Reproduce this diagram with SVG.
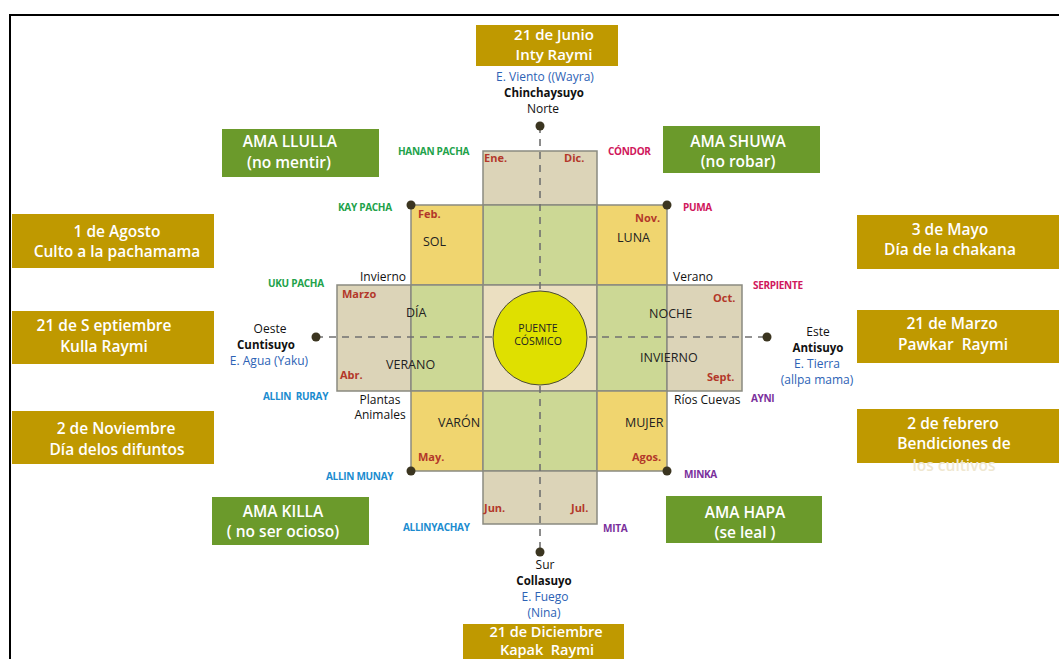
<svg xmlns="http://www.w3.org/2000/svg" width="1059" height="659" viewBox="0 0 1059 659">
<defs>
<style>
text{font-family:"Open Sans","Noto Sans","Liberation Sans",sans-serif}
.pre{white-space:pre}
.gold{fill:#bf9900}
.grn{fill:#6b9a2b}
.bt{fill:#fff;font-size:15.5px;font-weight:600;text-anchor:middle}
.tb{fill:#fff;font-size:14.5px;font-weight:600;text-anchor:middle}
.cell{stroke:#8a8a80;stroke-width:1.5}
.yel{fill:#f0d56f}
.gc{fill:#ccd895}
.bei{fill:#dcd4b8}
.ctr{fill:#ebdfc1}
.dot{fill:#3b3520}
.dash{stroke:#707070;stroke-width:1.6;stroke-dasharray:7 6;fill:none}
.mo{fill:#b3382a;font-size:11px;font-weight:700}
.in{fill:#222;font-size:12.5px}
.lb{fill:#111;font-size:12px}
.bd{fill:#111;font-size:11.5px;font-weight:700;text-anchor:middle}
.el{fill:#2c62b5;font-size:12px;text-anchor:middle}
.pg{fill:#22a24a;font-size:10px;font-weight:700;letter-spacing:-0.3px}
.pc{fill:#d0175c;font-size:10px;font-weight:700;letter-spacing:-0.3px}
.pb{fill:#1b8ccf;font-size:10px;font-weight:700;letter-spacing:-0.3px}
.pp{fill:#7a2f9c;font-size:10px;font-weight:700;letter-spacing:-0.3px}
</style>
</defs>
<rect width="1059" height="659" fill="#fff"/>
<path d="M10,659 V15 H1059" fill="none" stroke="#000" stroke-width="2"/>

<g id="cross">
<rect class="cell bei" x="483" y="151" width="114" height="54"/>
<rect class="cell gc" x="483" y="205" width="114" height="80"/>
<rect class="cell yel" x="411" y="205" width="72" height="80"/>
<rect class="cell yel" x="597" y="205" width="70" height="80"/>
<rect class="cell bei" x="337" y="285" width="74" height="106"/>
<rect class="cell gc" x="411" y="285" width="72" height="106"/>
<rect class="cell ctr" x="483" y="285" width="114" height="106"/>
<rect class="cell gc" x="597" y="285" width="70" height="106"/>
<rect class="cell bei" x="667" y="285" width="75" height="106"/>
<rect class="cell yel" x="411" y="391" width="72" height="80"/>
<rect class="cell gc" x="483" y="391" width="114" height="80"/>
<rect class="cell yel" x="597" y="391" width="70" height="80"/>
<rect class="cell bei" x="483" y="471" width="114" height="53"/>
</g>

<g id="connectors">
<line class="dash" x1="540" y1="126" x2="540" y2="552"/>
<line class="dash" x1="316" y1="337" x2="767" y2="337"/>
</g>

<g id="puente-cosmico">
<circle cx="540" cy="338" r="47" fill="#dfe000" stroke="#4a4a3a" stroke-width="1"/>
<text x="538" y="332" style="fill:#222;font-size:10.5px;text-anchor:middle">PUENTE</text>
<text x="538" y="345" style="fill:#222;font-size:10.5px;text-anchor:middle">CÓSMICO</text>
</g>

<g id="dots">
<circle class="dot" cx="540" cy="126" r="4.5"/>
<circle class="dot" cx="540" cy="552" r="4.5"/>
<circle class="dot" cx="316" cy="337" r="4.5"/>
<circle class="dot" cx="767" cy="337" r="4.5"/>
<circle class="dot" cx="411" cy="205" r="4.5"/>
<circle class="dot" cx="667" cy="205" r="4.5"/>
<circle class="dot" cx="411" cy="471" r="4.5"/>
<circle class="dot" cx="667" cy="471" r="4.5"/>
</g>

<g id="months">
<text class="mo" x="484" y="162">Ene.</text>
<text class="mo" x="564" y="162">Dic.</text>
<text class="mo" x="418" y="218">Feb.</text>
<text class="mo" x="635" y="222">Nov.</text>
<text class="mo" x="342" y="298">Marzo</text>
<text class="mo" x="713" y="302">Oct.</text>
<text class="mo" x="340" y="379">Abr.</text>
<text class="mo" x="707" y="381">Sept.</text>
<text class="mo" x="418" y="461">May.</text>
<text class="mo" x="632" y="461">Agos.</text>
<text class="mo" x="484" y="512">Jun.</text>
<text class="mo" x="571" y="512">Jul.</text>
</g>

<g id="inner-labels">
<text class="in" x="423" y="246">SOL</text>
<text class="in" x="617" y="242">LUNA</text>
<text class="in" x="406" y="317">DÍA</text>
<text class="in" x="649" y="318">NOCHE</text>
<text class="in" x="386" y="369">VERANO</text>
<text class="in" x="640" y="362">INVIERNO</text>
<text class="in" x="438" y="427">VARÓN</text>
<text class="in" x="625" y="427">MUJER</text>
</g>

<g id="side-labels">
<text class="lb" x="360" y="281">Invierno</text>
<text class="lb" x="673" y="281">Verano</text>
<text class="lb" x="380" y="404" text-anchor="middle">Plantas</text>
<text class="lb" x="380" y="419" text-anchor="middle">Animales</text>
<text class="lb" x="674" y="404">Ríos Cuevas</text>
</g>

<g id="norte">
<text class="el" x="545" y="81">E. Viento ((Wayra)</text>
<text class="bd" x="544" y="97">Chinchaysuyo</text>
<text class="lb" x="543" y="113" text-anchor="middle">Norte</text>
</g>
<g id="oeste">
<text class="lb" x="270" y="333" text-anchor="middle">Oeste</text>
<text class="bd" x="266" y="349">Cuntisuyo</text>
<text class="el" x="269" y="365">E. Agua (Yaku)</text>
</g>
<g id="este">
<text class="lb" x="818" y="336" text-anchor="middle">Este</text>
<text class="bd" x="818" y="352">Antisuyo</text>
<text class="el" x="817" y="368">E. Tierra</text>
<text class="el" x="817" y="384">(allpa mama)</text>
</g>
<g id="sur">
<text class="lb" x="545" y="569" text-anchor="middle">Sur</text>
<text class="bd" x="544" y="585">Collasuyo</text>
<text class="el" x="545" y="601">E. Fuego</text>
<text class="el" x="544" y="617">(Nina)</text>
</g>

<g id="pacha-labels">
<text class="pg" x="398" y="155">HANAN PACHA</text>
<text class="pg" x="338" y="211">KAY PACHA</text>
<text class="pg" x="268" y="287">UKU PACHA</text>
<text class="pc" x="608" y="155">CÓNDOR</text>
<text class="pc" x="683" y="211">PUMA</text>
<text class="pc" x="753" y="289">SERPIENTE</text>
<text class="pb pre" x="263" y="400">ALLIN  RURAY</text>
<text class="pb" x="326" y="480">ALLIN MUNAY</text>
<text class="pb" x="403" y="531">ALLINYACHAY</text>
<text class="pp" x="751" y="402">AYNI</text>
<text class="pp" x="684" y="478">MINKA</text>
<text class="pp" x="603" y="532">MITA</text>
</g>

<g id="inty-raymi">
<rect class="gold" x="476" y="25" width="142" height="41"/>
<text class="tb" x="554" y="40" style="font-size:15px">21 de Junio</text>
<text class="tb" x="554" y="60" style="font-size:15px">Inty Raymi</text>
</g>
<g id="kapak-raymi">
<rect class="gold" x="463" y="624" width="161" height="40"/>
<text class="tb" x="546" y="637">21 de Diciembre</text>
<text class="tb pre" x="547" y="655">Kapak  Raymi</text>
</g>

<g id="agosto">
<rect class="gold" x="12" y="214" width="202" height="54"/>
<text class="bt" x="117" y="237">1 de Agosto</text>
<text class="bt" x="117" y="257">Culto a la pachamama</text>
</g>
<g id="septiembre">
<rect class="gold" x="12" y="311" width="202" height="53"/>
<text class="bt" x="104" y="331">21 de S eptiembre</text>
<text class="bt" x="104" y="352">Kulla Raymi</text>
</g>
<g id="noviembre">
<rect class="gold" x="12" y="411" width="202" height="53"/>
<text class="bt" x="116" y="434">2 de Noviembre</text>
<text class="bt" x="117" y="455">Día delos difuntos</text>
</g>
<g id="mayo">
<rect class="gold" x="857" y="215" width="210" height="54"/>
<text class="bt" x="950" y="235">3 de Mayo</text>
<text class="bt" x="950" y="255">Día de la chakana</text>
</g>
<g id="marzo">
<rect class="gold" x="857" y="310" width="210" height="53"/>
<text class="bt" x="952" y="329">21 de Marzo</text>
<text class="bt pre" x="953" y="350">Pawkar  Raymi</text>
</g>
<g id="febrero">
<rect class="gold" x="857" y="409" width="210" height="54"/>
<text class="bt" x="953" y="429">2 de febrero</text>
<text class="bt" x="954" y="449">Bendiciones de</text>
<text class="bt" x="954" y="471" style="fill:#efe7cf">los cultivos</text>
</g>

<g id="ama-llulla">
<rect class="grn" x="222" y="129" width="157" height="48"/>
<text class="bt" x="290" y="147">AMA LLULLA</text>
<text class="bt" x="289" y="168">(no mentir)</text>
</g>
<g id="ama-shuwa">
<rect class="grn" x="663" y="126" width="157" height="47"/>
<text class="bt" x="738" y="147">AMA SHUWA</text>
<text class="bt" x="738" y="167">(no robar)</text>
</g>
<g id="ama-killa">
<rect class="grn" x="212" y="497" width="157" height="48"/>
<text class="bt" x="283" y="517">AMA KILLA</text>
<text class="bt" x="283" y="537">( no ser ocioso)</text>
</g>
<g id="ama-hapa">
<rect class="grn" x="666" y="496" width="156" height="47"/>
<text class="bt" x="745" y="518">AMA HAPA</text>
<text class="bt" x="745" y="538">(se leal )</text>
</g>
</svg>
